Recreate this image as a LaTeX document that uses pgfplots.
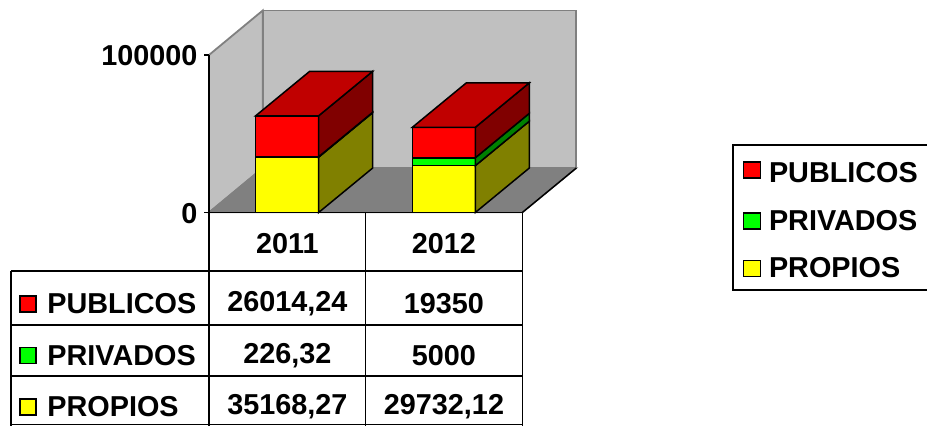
\documentclass[border=0pt]{standalone}
\usepackage{fontspec}
\setmainfont{Liberation Sans}
\usepackage{pgfplots}
\pgfplotsset{compat=1.18}
\newcommand{\bigb}{\bfseries\fontsize{28.8}{32}\selectfont}
\definecolor{wall}{HTML}{C0C0C0}
\definecolor{floorc}{HTML}{808080}
\definecolor{topr}{HTML}{C00000}
\definecolor{sider}{HTML}{800000}
\definecolor{sideg}{HTML}{008000}
\definecolor{sidey}{HTML}{808000}
\definecolor{fy}{HTML}{FFFF00}
\definecolor{fg}{HTML}{00FF00}
\definecolor{fr}{HTML}{FF0000}
\begin{document}
\begin{tikzpicture}[x=1pt,y=1pt]
\path[use as bounding box] (0,0) rectangle (927,426);
\begin{axis}[
  at={(209pt,213.5pt)}, anchor=origin,
  scale only axis, width=313.3pt, height=157.5pt,
  xmin=0, xmax=2, ymin=0, ymax=100000,
  clip=false, axis on top,
  axis y line*=left, axis x line*=bottom,
  axis line style={black, line width=1.5pt},
  xtick={0.5,1.5}, xticklabels={2011,2012},
  ytick={0,100000},
  tick align=outside,
  scaled y ticks=false,
  /pgf/number format/fixed,
  /pgf/number format/precision=0,
  /pgf/number format/assume math mode=true,
  /pgf/number format/set thousands separator={},
  tick label style={font=\bigb},
  major tick length=5pt,
  x tick style={draw=none},
  y tick style={black,line width=1.5pt},
  xticklabel style={yshift=-12pt},
  yticklabel style={xshift=-3pt,yshift=-1pt},
  legend cell align=left,
  legend style={at={(axis cs:3.339,43173)}, anchor=north west,
    draw=black, line width=1.5pt, font=\bigb, inner xsep=10pt, inner ysep=8.5pt,
    row sep=22pt},
  legend image code/.code={\draw[#1,line width=1.2pt] (0pt,-8pt) rectangle (17pt,8pt);},
]
% walls and floor
\addplot[fill=wall,draw=floorc,line width=1.8pt,forget plot] coordinates {(0,0)(0.343,28250)(0.343,128250)(0,100000)} -- cycle;
\addplot[fill=wall,draw=floorc,line width=1.8pt,forget plot] coordinates {(0.343,28250)(2.345,28250)(2.345,128250)(0.343,128250)} -- cycle;
\addplot[fill=floorc,draw=floorc,line width=1.5pt,forget plot] coordinates {(0,0)(2,0)(2.345,28250)(0.343,28250)} -- cycle;
\addplot[draw=black,line width=1.5pt,forget plot] coordinates {(2,0)(2.345,28250)};
% bar 2011 - front
\pgfplotsset{every axis plot/.append style={line width=1.5pt}}
\addplot[fill=fy,draw=black,forget plot] coordinates {(0.298,0)(0.700,0)(0.700,35168.27)(0.298,35168.27)} -- cycle;
\addplot[fill=fg,draw=black,forget plot] coordinates {(0.298,35168.27)(0.700,35168.27)(0.700,35394.59)(0.298,35394.59)} -- cycle;
\addplot[fill=fr,draw=black,forget plot] coordinates {(0.298,35394.59)(0.700,35394.59)(0.700,61408.83)(0.298,61408.83)} -- cycle;
% bar 2011 - side
\addplot[fill=sidey,draw=black,forget plot] coordinates {(0.700,0)(1.045,28250)(1.045,63418.27)(0.700,35168.27)} -- cycle;
\addplot[fill=sideg,draw=black,forget plot] coordinates {(0.700,35168.27)(1.045,63418.27)(1.045,63644.59)(0.700,35394.59)} -- cycle;
\addplot[fill=sider,draw=black,forget plot] coordinates {(0.700,35394.59)(1.045,63644.59)(1.045,89658.83)(0.700,61408.83)} -- cycle;
\addplot[fill=topr,draw=black,forget plot] coordinates {(0.298,61408.83)(0.700,61408.83)(1.045,89658.83)(0.643,89658.83)} -- cycle;
% bar 2012 - front
\addplot[fill=fy,draw=black,forget plot] coordinates {(1.298,0)(1.700,0)(1.700,29732.12)(1.298,29732.12)} -- cycle;
\addplot[fill=fg,draw=black,forget plot] coordinates {(1.298,29732.12)(1.700,29732.12)(1.700,34732.12)(1.298,34732.12)} -- cycle;
\addplot[fill=fr,draw=black,forget plot] coordinates {(1.298,34732.12)(1.700,34732.12)(1.700,54082.12)(1.298,54082.12)} -- cycle;
% bar 2012 - side
\addplot[fill=sidey,draw=black,forget plot] coordinates {(1.700,0)(2.045,28250)(2.045,57982.12)(1.700,29732.12)} -- cycle;
\addplot[fill=sideg,draw=black,forget plot] coordinates {(1.700,29732.12)(2.045,57982.12)(2.045,62982.12)(1.700,34732.12)} -- cycle;
\addplot[fill=sider,draw=black,forget plot] coordinates {(1.700,34732.12)(2.045,62982.12)(2.045,82332.12)(1.700,54082.12)} -- cycle;
\addplot[fill=topr,draw=black,forget plot] coordinates {(1.298,54082.12)(1.700,54082.12)(2.045,82332.12)(1.643,82332.12)} -- cycle;
% data table lines
\addplot[draw=black,forget plot] coordinates {(0,0)(0,-135556)};
\addplot[draw=black,forget plot] coordinates {(1,0)(1,-135556)};
\addplot[draw=black,forget plot] coordinates {(2,0)(2,-135556)};
\addplot[draw=black,forget plot] coordinates {(-1.264,-37142)(-1.264,-135556)};
\addplot[draw=black,forget plot] coordinates {(-1.264,-37142)(2,-37142)};
\addplot[draw=black,forget plot] coordinates {(-1.264,-71426)(2,-71426)};
\addplot[draw=black,forget plot] coordinates {(-1.264,-103806)(2,-103806)};
\addplot[draw=black,forget plot] coordinates {(-1.264,-134600)(2,-134600)};
% table keys
\addplot[only marks,mark=square*,mark size=8pt,mark options={fill=fr,draw=black,line width=1.2pt},forget plot] coordinates {(-1.155,-58093)};
\addplot[only marks,mark=square*,mark size=8pt,mark options={fill=fg,draw=black,line width=1.2pt},forget plot] coordinates {(-1.155,-90791)};
\addplot[only marks,mark=square*,mark size=8pt,mark options={fill=fy,draw=black,line width=1.2pt},forget plot] coordinates {(-1.155,-123489)};
% table text
\node[font=\bigb,anchor=west] at (axis cs:-1.054,-58093) {PUBLICOS};
\node[font=\bigb,anchor=west] at (axis cs:-1.054,-90791) {PRIVADOS};
\node[font=\bigb,anchor=west] at (axis cs:-1.054,-123489) {PROPIOS};
\node[font=\bigb] at (axis cs:0.5,-58093) {26014,24};
\node[font=\bigb] at (axis cs:1.5,-58093) {19350};
\node[font=\bigb] at (axis cs:0.5,-90791) {226,32};
\node[font=\bigb] at (axis cs:1.5,-90791) {5000};
\node[font=\bigb] at (axis cs:0.5,-123489) {35168,27};
\node[font=\bigb] at (axis cs:1.5,-123489) {29732,12};
% legend
\addlegendimage{fill=fr,draw=black}
\addlegendentry{\rule{0pt}{27pt}\hspace{6pt}PUBLICOS\hspace{30pt}}
\addlegendimage{fill=fg,draw=black}
\addlegendentry{\hspace{6pt}PRIVADOS}
\addlegendimage{fill=fy,draw=black}
\addlegendentry{\hspace{6pt}PROPIOS}
\end{axis}
\end{tikzpicture}
\end{document}
